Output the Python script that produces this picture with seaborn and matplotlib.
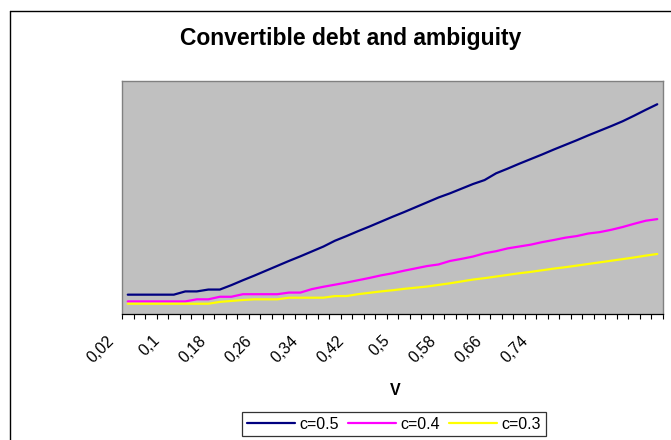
import numpy as np
import pandas as pd
import seaborn as sns
import matplotlib.pyplot as plt
from matplotlib.lines import Line2D
from matplotlib.transforms import ScaledTranslation

# categories on the x axis (V)
v_values = [0.02, 0.04, 0.06, 0.08, 0.1, 0.12, 0.14, 0.16, 0.18, 0.2,
            0.22, 0.24, 0.26, 0.28, 0.3, 0.32, 0.34, 0.36, 0.38, 0.4,
            0.42, 0.44, 0.46, 0.48, 0.5, 0.52, 0.54, 0.56, 0.58, 0.6,
            0.62, 0.64, 0.66, 0.68, 0.7, 0.72, 0.74, 0.76, 0.78, 0.8,
            0.82, 0.84, 0.86, 0.88, 0.9, 0.92, 0.94]

# series values (hidden value axis 0..1)
c05 = [0.081, 0.081, 0.081, 0.081, 0.081, 0.095, 0.095, 0.103, 0.103, 0.122,
       0.143, 0.163, 0.184, 0.205, 0.226, 0.246, 0.267, 0.288, 0.313, 0.333,
       0.354, 0.374, 0.395, 0.416, 0.436, 0.457, 0.478, 0.499, 0.517, 0.537,
       0.557, 0.574, 0.603, 0.623, 0.644, 0.664, 0.684, 0.705, 0.725, 0.745,
       0.766, 0.786, 0.806, 0.827, 0.851, 0.876, 0.900]
c04 = [0.052, 0.052, 0.052, 0.052, 0.052, 0.052, 0.061, 0.061, 0.072, 0.072,
       0.083, 0.083, 0.083, 0.083, 0.090, 0.090, 0.105, 0.115, 0.124, 0.133,
       0.143, 0.153, 0.164, 0.173, 0.184, 0.194, 0.204, 0.211, 0.226, 0.235,
       0.245, 0.259, 0.268, 0.280, 0.288, 0.296, 0.307, 0.316, 0.326, 0.333,
       0.344, 0.350, 0.360, 0.372, 0.386, 0.399, 0.406]
c03 = [0.042, 0.042, 0.042, 0.042, 0.042, 0.042, 0.042, 0.042, 0.050, 0.054,
       0.058, 0.061, 0.061, 0.061, 0.068, 0.068, 0.068, 0.068, 0.075, 0.075,
       0.083, 0.089, 0.095, 0.100, 0.106, 0.111, 0.116, 0.123, 0.130, 0.138,
       0.146, 0.152, 0.159, 0.166, 0.173, 0.179, 0.186, 0.193, 0.199, 0.206,
       0.213, 0.220, 0.227, 0.234, 0.241, 0.249, 0.256]

series_names = ["c=0.5", "c=0.4", "c=0.3"]
series_colors = ["#000080", "#FF00FF", "#FFFF00"]
shown_labels = ["0,02", "0,1", "0,18", "0,26", "0,34", "0,42", "0,5", "0,58", "0,66", "0,74"]

sns.set_style("white")
plt.rcParams["font.family"] = ["Liberation Sans", "DejaVu Sans"]
plt.rcParams["text.color"] = "black"
plt.rcParams["xtick.labelcolor"] = "black"

n = len(v_values)
pos = np.arange(n)
df = pd.DataFrame({
    "pos": np.tile(pos, 3),
    "value": c05 + c04 + c03,
    "series": np.repeat(series_names, n),
})

fig = plt.figure(figsize=(6.71, 4.4), dpi=100)
ax = fig.add_axes([122 / 671, 1 - 313.5 / 440, 541 / 671, 232.5 / 440])
sns.lineplot(data=df, x="pos", y="value", hue="series", hue_order=series_names,
             palette=dict(zip(series_names, series_colors)), linewidth=1.6,
             ax=ax, legend=False)

ax.set_xlim(-0.5, n - 0.5)
ax.set_ylim(0, 1)
ax.set_facecolor("#C0C0C0")
for s in ["top", "right", "left"]:
    ax.spines[s].set_color("#808080")
    ax.spines[s].set_linewidth(1.0)
ax.spines["bottom"].set_color("black")
ax.spines["bottom"].set_linewidth(0.9)
ax.set_yticks([])
ax.set_ylabel("")
ax.set_xlabel("")

# tick marks between categories, labels on some category centres
ax.set_xticks(np.arange(n + 1) - 0.5)
ax.set_xticklabels([])
ax.tick_params(axis="x", which="major", direction="out", length=3.6, width=0.8,
               color="black", bottom=True)
lab_pos = [v_values.index(float(t.replace(",", "."))) for t in shown_labels]
ax.set_xticks(lab_pos, minor=True)
ax.set_xticklabels(shown_labels, minor=True, rotation=45, ha="right", va="top",
                   fontsize=11.5, color="black")
ax.tick_params(axis="x", which="minor", length=0, pad=14)
offset = ScaledTranslation(-11 / 100, 0, fig.dpi_scale_trans)
for lbl in ax.get_xticklabels(minor=True):
    lbl.set_transform(lbl.get_transform() + offset)

fig.text(351 / 671, 1 - 38 / 440, "Convertible debt and ambiguity",
         ha="center", va="center", fontsize=16.5, fontweight="bold", color="black")
fig.text(395 / 671, 1 - 390.5 / 440, "V", ha="center", va="center",
         fontsize=11.5, fontweight="bold", color="black")

handles = [Line2D([], [], color=c, lw=1.6) for c in series_colors]
leg = fig.legend(handles, series_names, loc="center", ncol=3,
                 bbox_to_anchor=(394 / 671, 1 - 424 / 440), fontsize=11.5,
                 frameon=True, fancybox=False, handlelength=3.0,
                 handletextpad=0.25, columnspacing=0.6, borderpad=0.3,
                 borderaxespad=0, labelcolor="black")
leg.get_frame().set_edgecolor("black")
leg.get_frame().set_linewidth(0.9)

# chart area border (cropped at right and bottom)
x0, y0 = 9.5 / 671, 1 - 11.5 / 440
fig.add_artist(Line2D([x0, x0], [0, y0], color="black", lw=1.0))
fig.add_artist(Line2D([x0, 1], [y0, y0], color="black", lw=1.0))

fig.savefig("out.png", dpi=100)
